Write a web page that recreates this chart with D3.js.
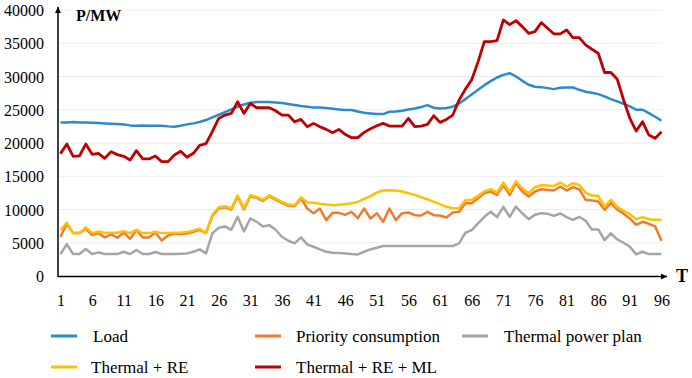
<!DOCTYPE html>
<html>
<head>
<meta charset="utf-8">
<script src="https://cdn.jsdelivr.net/npm/d3@7/dist/d3.min.js"></script>
<style>
  html, body { margin: 0; padding: 0; background: #fff; }
  svg { display: block; }
</style>
</head>
<body>
<svg id="chart" width="692" height="378"></svg>
<script>
const periods = d3.range(1, 97);
const xTickValues = [1, 6, 11, 16, 21, 26, 31, 36, 41, 46, 51, 56, 61, 66, 71, 76, 81, 86, 91, 96];
const yTickValues = [0, 5000, 10000, 15000, 20000, 25000, 30000, 35000, 40000];

const seriesNames = ["Load", "Priority consumption", "Thermal power plan", "Thermal + RE", "Thermal + RE + ML"];

const load = [23100,23100,23150,23100,23100,23050,23000,22950,22900,22850,22800,22650,22600,22650,22600,22600,22600,22500,22450,22600,
  22800,22950,23150,23450,23850,24250,24650,25050,25450,25800,26050,26150,26150,26150,26100,26000,25850,25700,25550,25450,
  25350,25350,25250,25150,25050,24950,24950,24750,24550,24450,24350,24350,24700,24750,24850,25050,25200,25400,25700,25300,
  25200,25250,25450,25950,26600,27300,28000,28700,29300,29850,30250,30500,30000,29350,28750,28450,28400,28250,28100,28300,
  28350,28350,28000,27700,27550,27350,27000,26600,26250,25900,25500,25000,25000,24500,23950,23350];

const priority = [5900,7900,6450,6450,7100,6150,6450,5800,6250,5750,6550,5600,6900,5800,5800,6550,5350,6100,6400,6300,
  6400,6650,6950,6450,9050,10150,10350,10000,11950,10000,12000,11750,11300,12000,11500,11000,10600,10500,11700,10150,
  9450,10150,8400,9500,9500,9200,9650,8700,10150,8650,9450,8150,10150,8400,9450,9550,9150,9100,9650,9150,
  9100,8800,9550,9650,10950,10950,11700,12450,12700,12200,13700,12200,13950,12700,11950,12700,13050,12950,12850,13450,
  12850,13350,13050,11450,11350,11200,9950,10950,10000,9350,8650,7700,8150,7850,7450,5300];

const thermal = [3300,4800,3300,3300,4050,3300,3550,3300,3300,3300,3650,3300,3900,3300,3300,3600,3300,3300,3300,3350,
  3400,3650,4000,3400,6400,7250,7450,6950,8900,6700,8650,8150,7450,7650,6950,5900,5300,4900,5800,4750,
  4400,4000,3650,3500,3450,3400,3300,3250,3650,4000,4250,4500,4500,4500,4500,4500,4500,4500,4500,4500,
  4500,4500,4500,4900,6500,6900,7900,8900,9650,8850,10400,8900,10450,9400,8550,9200,9450,9350,9050,9400,
  8850,8450,8900,8300,7000,7000,5400,6400,5500,5000,4400,3250,3650,3300,3300,3300];

const thermalRE = [6900,8000,6450,6450,7300,6450,6700,6500,6500,6500,6750,6450,6950,6450,6450,6650,6450,6450,6500,6500,
  6600,6850,7100,6500,9200,10300,10500,10150,12100,10150,12150,11900,11450,12150,11650,11150,10750,10650,11850,11050,
  11000,10850,10750,10650,10700,10800,10950,11150,11600,12000,12550,12850,12900,12850,12700,12450,12200,11850,11550,11150,
  10800,10400,10200,10200,11400,11450,12050,12700,13050,12550,14050,12650,14250,13200,12450,13350,13650,13600,13550,14050,
  13450,13950,13700,12550,12100,12050,10450,11450,10400,9800,9300,8550,8850,8550,8450,8450];

const thermalREML = [18400,19850,18000,18050,19850,18300,18450,17700,18700,18250,18000,17450,18850,17600,17600,18050,17200,17200,18200,18750,
  17850,18450,19650,19900,21700,23700,24200,24450,26200,24450,25950,25300,25300,25300,24850,24200,24200,23200,23550,22450,
  22950,22450,22050,21550,22050,21300,20800,20800,21600,22150,22600,22950,22550,22550,22550,23700,22450,22550,22800,24100,
  23100,23550,24200,26450,28100,29500,32200,35250,35250,35400,38500,37800,38400,37500,36500,36750,38100,37250,36400,36400,
  37000,35850,35850,34750,34100,33500,30600,30600,29600,26500,23700,21800,23200,21200,20700,21700];

const seriesColors = ["#2B8ACB", "#F07B2E", "#A5A5A5", "#FFC000", "#C00000"];
const seriesData = [load, priority, thermal, thermalRE, thermalREML];

const FONT = "'Times New Roman', 'Liberation Serif', Tinos, 'DejaVu Serif', serif";

const svg = d3.select("#chart");
const x = d3.scaleLinear().domain([1, 96]).range([60.5, 661.5]);
const y = d3.scaleLinear().domain([0, 40000]).range([276, 10]);
const axisLeftX = 58, axisRightX = 667;

// gridlines
svg.append("g").selectAll("line").data(yTickValues.filter(v => v > 0)).join("line")
  .attr("x1", axisLeftX).attr("x2", 663)
  .attr("y1", d => y(d)).attr("y2", d => y(d))
  .attr("stroke", "#EDEDED").attr("stroke-width", 1);

// y axis labels
const yAxis = svg.append("g").attr("transform", "translate(44,0)")
  .call(d3.axisLeft(y).tickValues(yTickValues).tickSize(0).tickPadding(0).tickFormat(d3.format("d")));
yAxis.attr("font-family", null);
yAxis.select(".domain").remove();
yAxis.selectAll("text").style("font-family", FONT).style("font-size", "16px").attr("fill", "#000").attr("dy", "0.35em");

// x axis labels
const xAxis = svg.append("g").attr("transform", "translate(0,292)")
  .call(d3.axisBottom(x).tickValues(xTickValues).tickSize(0).tickPadding(0).tickFormat(d3.format("d")));
xAxis.attr("font-family", null);
xAxis.select(".domain").remove();
xAxis.selectAll("text").style("font-family", FONT).style("font-size", "16px").attr("fill", "#000").attr("dy", "0.9em");

// arrow markers
const defs = svg.append("defs");
defs.append("marker").attr("id", "arrow").attr("viewBox", "0 0 10 10")
  .attr("refX", 10).attr("refY", 5).attr("markerWidth", 7).attr("markerHeight", 6)
  .attr("markerUnits", "userSpaceOnUse").attr("orient", "auto")
  .append("path").attr("d", "M0,0 L10,5 L0,10 Z").attr("fill", "#000");

// series lines
const line = d3.line().x((d, i) => x(periods[i])).y(d => y(d));
svg.append("g").selectAll("path").data(seriesData).join("path")
  .attr("d", d => line(d))
  .attr("fill", "none")
  .attr("stroke", (d, i) => seriesColors[i])
  .attr("stroke-width", (d, i) => i === 4 ? 2.8 : 2.5)
  .attr("stroke-linejoin", "round");

// axis lines
svg.append("line").attr("x1", axisLeftX).attr("y1", 276.5).attr("x2", axisRightX).attr("y2", 276.5)
  .attr("stroke", "#000").attr("stroke-width", 1.5).attr("marker-end", "url(#arrow)");
svg.append("line").attr("x1", axisLeftX).attr("y1", 277).attr("x2", axisLeftX).attr("y2", 7)
  .attr("stroke", "#000").attr("stroke-width", 1.5).attr("marker-end", "url(#arrow)");

// axis titles
svg.append("text").attr("x", 76).attr("y", 21).style("font-family", FONT).style("font-size", "16px")
  .style("font-weight", "bold").attr("fill", "#000").text("P/MW");
svg.append("text").attr("x", 676).attr("y", 282).style("font-family", FONT).style("font-size", "18px")
  .style("font-weight", "bold").attr("fill", "#000").text("T");

// legend
const legendPos = [
  {lx: 51, tx: 93, y: 336},
  {lx: 255, tx: 296, y: 336},
  {lx: 462, tx: 504, y: 336},
  {lx: 51, tx: 91, y: 367},
  {lx: 255, tx: 296, y: 367}
];
const lg = svg.append("g").selectAll("g").data(seriesNames).join("g");
lg.append("line")
  .attr("x1", (d, i) => legendPos[i].lx).attr("x2", (d, i) => legendPos[i].lx + 26)
  .attr("y1", (d, i) => legendPos[i].y).attr("y2", (d, i) => legendPos[i].y)
  .attr("stroke", (d, i) => seriesColors[i]).attr("stroke-width", 3);
lg.append("text")
  .attr("x", (d, i) => legendPos[i].tx).attr("y", (d, i) => legendPos[i].y)
  .attr("dy", "0.33em").style("font-family", FONT).style("font-size", "17px").attr("fill", "#000")
  .text(d => d);
</script>
</body>
</html>
